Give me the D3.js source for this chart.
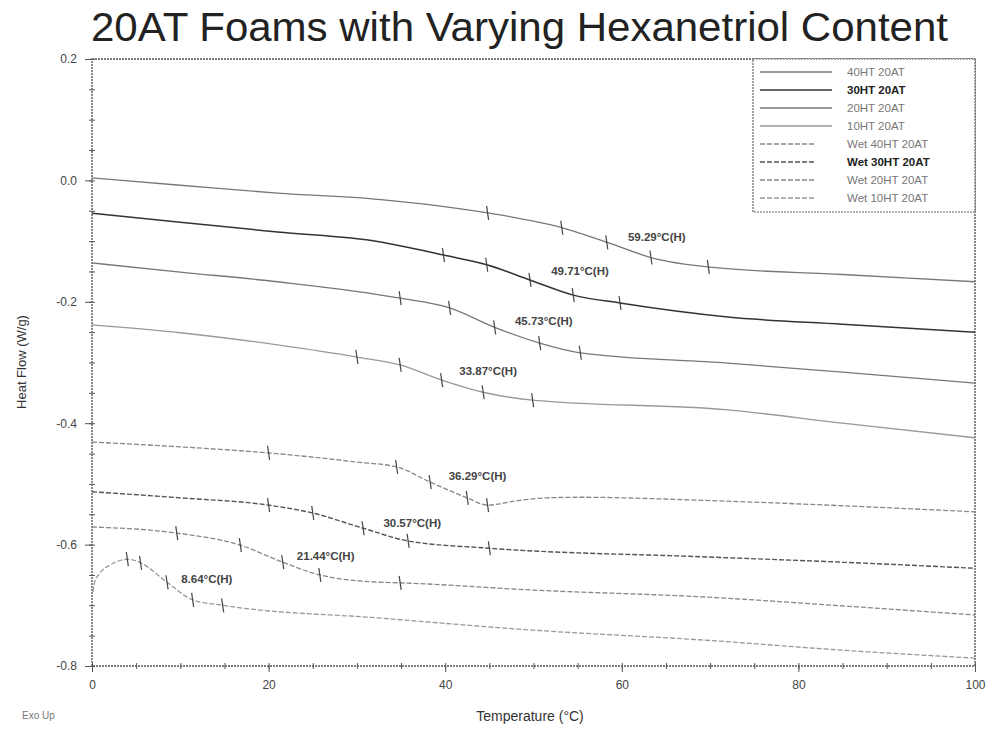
<!DOCTYPE html>
<html>
<head>
<meta charset="utf-8">
<script src="https://cdn.jsdelivr.net/npm/d3@7"></script>
<style>
  html, body { margin: 0; padding: 0; background: #fff; }
  svg { display: block; font-family: "Liberation Sans", Arial, sans-serif; }
</style>
</head>
<body>
<div id="chart"></div>
<script>
// ---------------- DATA ----------------
const seriesNames = ["40HT 20AT", "30HT 20AT", "20HT 20AT", "10HT 20AT",
                     "Wet 40HT 20AT", "Wet 30HT 20AT", "Wet 20HT 20AT", "Wet 10HT 20AT"];

// [temperature (°C), heat flow (W/g)]
const dry40 = [[0,0.004],[10,-0.008],[21,-0.021],[33,-0.032],[45,-0.054],[53,-0.077],[58.5,-0.103],[63.5,-0.128],[70,-0.143],[85,-0.155],[100,-0.167]];
const dry30 = [[0,-0.054],[10,-0.069],[21,-0.085],[32.5,-0.101],[39.8,-0.123],[44.7,-0.139],[49.6,-0.164],[54.5,-0.189],[59.8,-0.202],[72,-0.225],[85,-0.237],[100,-0.250]];
const dry20 = [[0,-0.136],[10,-0.151],[21,-0.167],[34.9,-0.194],[40.5,-0.210],[45.6,-0.242],[50.7,-0.268],[55.3,-0.284],[72,-0.301],[85,-0.316],[100,-0.334]];
const dry10 = [[0,-0.238],[10,-0.251],[21,-0.271],[30,-0.291],[34.9,-0.304],[39.6,-0.329],[44.3,-0.349],[49.9,-0.362],[72,-0.378],[85,-0.400],[100,-0.424]];
const wet40 = [[0,-0.431],[10,-0.439],[20,-0.449],[30,-0.464],[34.5,-0.472],[38.3,-0.497],[42.5,-0.523],[44.8,-0.535],[48,-0.528],[51.5,-0.523],[55.3,-0.522],[69,-0.527],[85,-0.536],[100,-0.546]];
const wet30 = [[0,-0.513],[10,-0.523],[20,-0.535],[25,-0.548],[30.7,-0.573],[35.8,-0.594],[45,-0.606],[69,-0.620],[85,-0.629],[100,-0.639]];
const wet20 = [[0,-0.571],[9.6,-0.581],[16.8,-0.601],[21.6,-0.629],[25.8,-0.650],[32.6,-0.662],[34.9,-0.663],[50,-0.675],[69,-0.686],[85,-0.701],[100,-0.716]];
const wet10 = [[0.1,-0.678],[0.3,-0.662],[0.9,-0.647],[2,-0.634],[3.5,-0.625],[4,-0.624],[5.5,-0.630],[8.5,-0.662],[11.4,-0.691],[14.8,-0.700],[32.6,-0.721],[50,-0.741],[69,-0.757],[85,-0.774],[100,-0.787]];

// analysis tick marks (temperatures) on each curve
const marks40 = [44.8, 53.2, 58.3, 63.3, 69.8];
const marks30 = [39.8, 44.7, 49.6, 54.5, 59.8];
const marks20 = [34.9, 40.5, 45.6, 50.7, 55.3];
const marks10 = [30, 34.9, 39.6, 44.3, 49.9];
const marksW40 = [20, 34.5, 38.3, 42.5, 44.8];
const marksW30 = [20, 25, 30.7, 35.8, 45];
const marksW20 = [9.6, 16.8, 21.6, 25.8, 34.9];
const marksW10 = [4, 5.5, 8.5, 11.4, 14.8];

// transition labels and their anchor (temperature, heat flow)
const transLabels = ["59.29°C(H)", "49.71°C(H)", "45.73°C(H)", "33.87°C(H)",
                     "36.29°C(H)", "30.57°C(H)", "21.44°C(H)", "8.64°C(H)"];
const labelT = [60.7, 52.0, 47.9, 41.6, 40.4, 33.0, 23.2, 10.1];
const labelV = [-0.093, -0.149, -0.232, -0.314, -0.487, -0.564, -0.619, -0.657];

const xMajorTicks = [0, 20, 40, 60, 80, 100];
const yMajorTicks = [-0.8, -0.6, -0.4, -0.2, 0.0, 0.2];

const seriesData = [dry40, dry30, dry20, dry10, wet40, wet30, wet20, wet10];
const seriesMarks = [marks40, marks30, marks20, marks10, marksW40, marksW30, marksW20, marksW10];

// ---------------- STYLES ----------------
const styles = [
  {stroke: "#777", width: 1.3, dash: null},
  {stroke: "#333", width: 1.5, dash: null},
  {stroke: "#777", width: 1.3, dash: null},
  {stroke: "#999", width: 1.3, dash: null},
  {stroke: "#888", width: 1.3, dash: "5,2"},
  {stroke: "#555", width: 1.4, dash: "5,2"},
  {stroke: "#888", width: 1.3, dash: "5,2"},
  {stroke: "#999", width: 1.3, dash: "5,2"}
];

const W = 992, H = 729;
const margin = {left: 92, right: 17, top: 59, bottom: 63};

const svg = d3.select("#chart").append("svg").attr("width", W).attr("height", H);

const x = d3.scaleLinear().domain([0, 100]).range([margin.left, W - margin.right]);
const y = d3.scaleLinear().domain([-0.8, 0.2]).range([H - margin.bottom, margin.top]);

// Title
const title = svg.append("text")
  .attr("x", 91).attr("y", 41)
  .attr("font-size", 40).attr("fill", "#222")
  .text("20AT Foams with Varying Hexanetriol Content");
title.attr("textLength", 857).attr("lengthAdjust", "spacingAndGlyphs");

// Frame
svg.append("rect")
  .attr("x", x(0)).attr("y", y(0.2))
  .attr("width", x(100) - x(0)).attr("height", y(-0.8) - y(0.2))
  .attr("fill", "none").attr("stroke", "#555").attr("stroke-width", 1.4)
  .attr("stroke-dasharray", "2,1");

// X axis
const xAxisG = svg.append("g").attr("transform", `translate(0,${y(-0.8)})`);
xAxisG.call(d3.axisBottom(x).tickValues(xMajorTicks).tickSize(6).tickPadding(8).tickFormat(d => String(d)));
const xMinor = svg.append("g").attr("transform", `translate(0,${y(-0.8) + 3})`);
xMinor.call(d3.axisBottom(x).tickValues(d3.range(0, 101, 5)).tickSize(-6).tickFormat(""));
// Y axis
const yAxisG = svg.append("g").attr("transform", `translate(${x(0)},0)`);
yAxisG.call(d3.axisLeft(y).tickValues(yMajorTicks).tickSize(7).tickPadding(8).tickFormat(d => d.toFixed(1)));
const yMinor = svg.append("g").attr("transform", `translate(${x(0) + 3},0)`);
yMinor.call(d3.axisLeft(y).tickValues(d3.range(0, 21).map(i => -0.8 + i * 0.05)).tickSize(6).tickFormat(""));

[xAxisG, yAxisG, xMinor, yMinor].forEach(g => {
  g.select(".domain").remove();
  g.selectAll(".tick line").attr("stroke", "#555").attr("stroke-width", 1);
  g.selectAll(".tick text").attr("fill", "#444").attr("font-size", 12)
    .attr("font-family", "Liberation Sans, Arial, sans-serif");
});

// Axis titles
svg.append("text").attr("x", 530).attr("y", 721).attr("text-anchor", "middle")
  .attr("font-size", 14).attr("fill", "#333").text("Temperature (°C)");
svg.append("text").attr("transform", "translate(26,362) rotate(-90)").attr("text-anchor", "middle")
  .attr("font-size", 13).attr("fill", "#333").text("Heat Flow (W/g)");
svg.append("text").attr("x", 22).attr("y", 719)
  .attr("font-size", 10).attr("fill", "#777").text("Exo Up");

// Curves
const line = d3.line().x(d => x(d[0])).y(d => y(d[1])).curve(d3.curveMonotoneX);
const plot = svg.append("g");

function interp(data, t) {
  for (let i = 0; i < data.length - 1; i++) {
    if (t >= data[i][0] && t <= data[i + 1][0]) {
      const f = (t - data[i][0]) / (data[i + 1][0] - data[i][0]);
      return data[i][1] + f * (data[i + 1][1] - data[i][1]);
    }
  }
  return data[data.length - 1][1];
}

seriesData.forEach((data, i) => {
  const st = styles[i];
  plot.append("path").datum(data)
    .attr("d", line)
    .attr("fill", "none")
    .attr("stroke", st.stroke)
    .attr("stroke-width", st.width)
    .attr("stroke-dasharray", st.dash);
  plot.selectAll(null).data(seriesMarks[i]).enter().append("line")
    .attr("x1", t => x(t) - 1).attr("x2", t => x(t) + 1)
    .attr("y1", t => y(interp(data, t)) - 7)
    .attr("y2", t => y(interp(data, t)) + 7)
    .attr("stroke", "#444").attr("stroke-width", 1.2);
});

// transition labels
svg.append("g").selectAll("text").data(transLabels).enter().append("text")
  .attr("x", (d, i) => x(labelT[i]))
  .attr("y", (d, i) => y(labelV[i]))
  .attr("dy", "0.35em")
  .attr("font-size", 11.5).attr("font-weight", "bold").attr("fill", "#444")
  .text(d => d);

// Legend
const lg = svg.append("g");
lg.append("rect").attr("x", 753).attr("y", y(0.2)).attr("width", x(100) - 753).attr("height", 153)
  .attr("fill", "#fff").attr("stroke", "#666").attr("stroke-width", 1.2).attr("stroke-dasharray", "2,1");
seriesNames.forEach((name, i) => {
  const yy = 72 + i * 18;
  const st = styles[i];
  lg.append("line").attr("x1", 760).attr("x2", i < 4 ? 832 : 814)
    .attr("y1", yy).attr("y2", yy)
    .attr("stroke", st.stroke).attr("stroke-width", st.width)
    .attr("stroke-dasharray", st.dash);
  lg.append("text").attr("x", 847).attr("y", yy).attr("dy", "0.35em")
    .attr("font-size", 11.5).attr("fill", (i === 1 || i === 5) ? "#222" : "#777")
    .attr("font-weight", (i === 1 || i === 5) ? "bold" : "normal")
    .text(name);
});
</script>
</body>
</html>
